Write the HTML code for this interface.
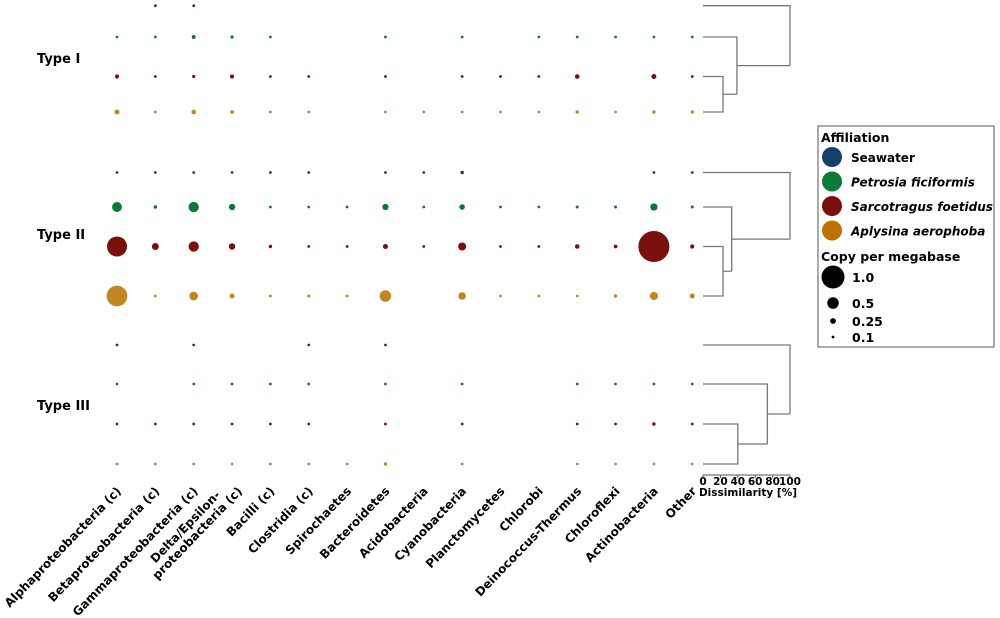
<!DOCTYPE html>
<html><head><meta charset="utf-8"><style>
html,body{margin:0;padding:0;background:#fff;}
svg{display:block;font-family:"DejaVu Sans","Liberation Sans",sans-serif;}
</style></head><body>
<svg id="c" width="1000" height="618" viewBox="0 0 1000 618"></svg>
<script>
const categories=["Alphaproteobacteria (c)","Betaproteobacteria (c)","Gammaproteobacteria (c)","Delta/Epsilon-|proteobacteria (c)","Bacilli (c)","Clostridia (c)","Spirochaetes","Bacteroidetes","Acidobacteria","Cyanobacteria","Planctomycetes","Chlorobi","Deinococcus-Thermus","Chloroflexi","Actinobacteria","Other"];
const types=["Type I","Type II","Type III"];
const samples=["Seawater","Petrosia ficiformis","Sarcotragus foetidus","Aplysina aerophoba"];
const typeISeawater=[0,0.08,0.08,0,0,0,0,0,0,0,0,0,0,0,0,0];
const typeIPetrosia=[0.1,0.1,0.17,0.14,0.1,0,0,0.1,0,0.12,0,0.1,0.12,0.1,0.12,0.12];
const typeISarco=[0.18,0.1,0.14,0.18,0.09,0.08,0,0.1,0,0.08,0.08,0.08,0.2,0,0.22,0.12];
const typeIAplysina=[0.22,0.1,0.2,0.16,0.09,0.09,0,0.1,0.08,0.09,0.08,0.08,0.15,0.09,0.15,0.15];
const typeIISeawater=[0.1,0.08,0.1,0.08,0.08,0.08,0,0.1,0.08,0.15,0,0,0,0,0.08,0.1];
const typeIIPetrosia=[0.43,0.15,0.45,0.28,0.12,0.12,0.1,0.27,0.1,0.24,0.1,0.1,0.13,0.13,0.32,0.13];
const typeIISarco=[0.87,0.3,0.45,0.28,0.15,0.1,0.08,0.22,0.1,0.35,0.12,0.08,0.2,0.16,1.35,0.18];
const typeIIAplysina=[0.9,0.12,0.38,0.22,0.12,0.13,0.12,0.5,0,0.33,0.1,0.1,0.1,0.15,0.36,0.22];
const typeIIISeawater=[0.07,0,0.07,0,0,0.07,0,0.07,0,0,0,0,0,0,0,0];
const typeIIIPetrosia=[0.08,0,0.08,0.08,0.08,0.08,0,0.08,0,0.08,0,0,0.08,0.08,0.08,0.08];
const typeIIISarco=[0.12,0.08,0.12,0.08,0.08,0.08,0,0.08,0,0.12,0,0,0.08,0.08,0.15,0.08];
const typeIIIAplysina=[0.12,0.08,0.12,0.08,0.08,0.08,0.08,0.15,0,0.12,0,0,0.08,0.12,0.1,0.08];
// dendrogram merge heights (dissimilarity %): [sarco-aply, +petrosia, +seawater]
const dendroI=[23,39,100];
const dendroII=[23,33,100];
const dendroIII=[40,74,100];
const dissimTicks=[0,20,40,60,80,100];
const legendSizes=[1.0,0.5,0.25,0.1];

const rows=[[typeISeawater,typeIPetrosia,typeISarco,typeIAplysina],[typeIISeawater,typeIIPetrosia,typeIISarco,typeIIAplysina],[typeIIISeawater,typeIIIPetrosia,typeIIISarco,typeIIIAplysina]];
const dendros=[dendroI,dendroII,dendroIII];
const rowY=[[5.7,37,76.5,112],[172.5,207,246.5,296],[345,384,424,464]];
const typeY=[58,234,405];
const colors=["#15406a","#0b7a37","#7a100c","#c28524"];
const legColors=["#15406a","#0b7a37","#7a100c","#bd7200"];
const NS="http://www.w3.org/2000/svg";
const svg=document.getElementById('c');
function mk(t,a,p){const e=document.createElementNS(NS,t);for(const k in a)e.setAttribute(k,a[k]);(p||svg).appendChild(e);return e;}
const xCol=i=>117+i*38.35;
const rSize=v=>Math.max(1.4,11.5*v);
const xD=d=>703+d*0.87;

types.forEach((t,ti)=>{
  const tl=mk('text',{x:37,y:typeY[ti]+5,'font-size':13,'font-weight':'bold',fill:'#000'});
  
  
  tl.textContent=t;
  rows[ti].forEach((vals,si)=>{
    vals.forEach((v,ci)=>{
      if(v<=0)return;
      const c=mk('circle',{cx:xCol(ci),cy:rowY[ti][si],r:rSize(v),fill:colors[si]});
      
      
    });
  });
  const d=dendros[ti],y=rowY[ti];
  const g=mk('g',{stroke:'#777','stroke-width':1.3,fill:'none'});
  
  
  const x1=xD(d[0]),x2=xD(d[1]),x3=xD(d[2]);
  const n1=(y[2]+y[3])/2,n2=(y[1]+n1)/2;
  mk('path',{d:`M703 ${y[2]}H${x1}V${y[3]}H703 M${x1} ${n1}H${x2} M703 ${y[1]}H${x2}V${n1} M${x2} ${n2}H${x3} M703 ${y[0]}H${x3}V${n2}`},g);
});

categories.forEach((c,i)=>{
  const parts=c.split('|');
  const x=xCol(i)+2+(parts.length>1?6:0),y=489;
  const t=mk('text',{transform:`translate(${x},${y}) rotate(-46)`,'text-anchor':'end','font-size':12,'font-weight':'bold',fill:'#000'});
  
  
  parts.forEach((p,k)=>{
    const off=(parts.length>1&&k===0)?-18:0;
    const ts=mk('tspan',{x:off,y:(k-(parts.length-1))*13+4},t);ts.textContent=p;});
});

const ax=mk('g',{});


mk('line',{x1:703,y1:475,x2:xD(100),y2:475,stroke:'#555','stroke-width':1},ax);
dissimTicks.forEach(v=>{
  mk('line',{x1:xD(v),y1:475,x2:xD(v),y2:478,stroke:'#555'},ax);
  const t=mk('text',{x:xD(v),y:485,'text-anchor':'middle','font-size':10.5,'font-weight':'bold'},ax);
  t.textContent=v;
});
const at=mk('text',{x:748,y:496,'text-anchor':'middle','font-size':10.5,'font-weight':'bold'},ax);
at.textContent='Dissimilarity [%]';

const lg=mk('g',{});


mk('rect',{x:818,y:126,width:176,height:221,fill:'#fff',stroke:'#555','stroke-width':1},lg);
const lt=mk('text',{x:821,y:142,'font-size':12.5,'font-weight':'bold'},lg);lt.textContent='Affiliation';
samples.forEach((s,i)=>{
  const y=157+i*24.5;
  const e=mk('g',{},lg);
  
  
  mk('circle',{cx:832,cy:y,r:10,fill:legColors[i]},e);
  const t=mk('text',{x:851,y:y+5,'font-size':12,'font-weight':'bold','font-style':i?'italic':'normal'},e);
  t.textContent=s;
});
const st=mk('text',{x:821,y:261,'font-size':12.5,'font-weight':'bold'},lg);st.textContent='Copy per megabase';
const sy=[277,303,321,337];
legendSizes.forEach((v,i)=>{
  const e=mk('g',{},lg);
  
  
  mk('circle',{cx:833,cy:sy[i],r:rSize(v),fill:'#000'},e);
  const t=mk('text',{x:852,y:sy[i]+5,'font-size':12.5,'font-weight':'bold'},e);
  t.textContent=v===1?'1.0':String(v);
});
</script>
</body></html>
